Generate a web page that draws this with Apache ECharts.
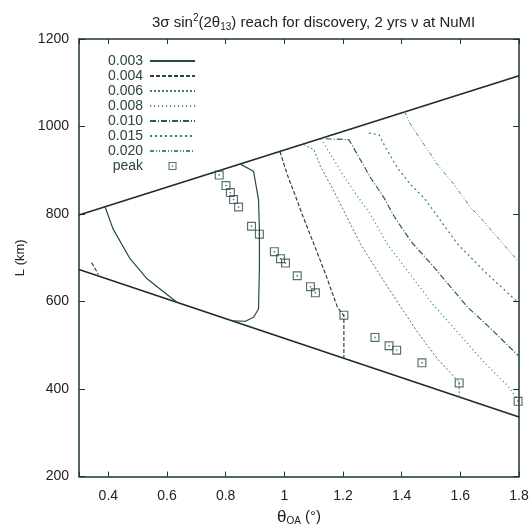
<!DOCTYPE html>
<html>
<head>
<meta charset="utf-8">
<script src="https://cdn.jsdelivr.net/npm/echarts@6/dist/echarts.min.js"></script>
<style>
  html, body { margin: 0; padding: 0; background: #fff; }
  #chart { width: 532px; height: 531px; }
</style>
</head>
<body>
<div id="chart"></div>
<script>
// tick labels
const xTicks = [0.4, 0.6, 0.8, 1, 1.2, 1.4, 1.6, 1.8]
const yTicks = [200, 400, 600, 800, 1000, 1200]
const legendNames = ['0.003', '0.004', '0.006', '0.008', '0.010', '0.015', '0.020']

// site boundaries (theta_OA, L)
const upperEdge = [[0.3, 798], [1.8, 1116]]
const lowerEdge = [[0.3, 673], [1.8, 336]]

// 3 sigma reach contours
const c003Left = [[0.389, 816], [0.416, 766], [0.474, 698], [0.532, 652], [0.587, 623], [0.635, 598]]
const c003Right = [[0.850, 914], [0.895, 898], [0.912, 833], [0.915, 765], [0.915, 675], [0.912, 583], [0.895, 564], [0.867, 555], [0.823, 556]]
const c004Stub = [[0.343, 689], [0.366, 662]]
const c004 = [[0.985, 943], [1.010, 890], [1.038, 841], [1.061, 799], [1.101, 731], [1.141, 662], [1.181, 587], [1.203, 568], [1.203, 470]]
const c006 = [[1.066, 959], [1.101, 947], [1.123, 909], [1.163, 860], [1.209, 799], [1.260, 731], [1.317, 670], [1.380, 605], [1.454, 530], [1.522, 469], [1.596, 416], [1.596, 382]]
const c008 = [[1.125, 972], [1.158, 936], [1.192, 898], [1.237, 852], [1.294, 799], [1.351, 731], [1.420, 670], [1.511, 590], [1.591, 530], [1.681, 461], [1.761, 408], [1.800, 372]]
const c010 = [[1.141, 972], [1.220, 970], [1.249, 936], [1.294, 883], [1.340, 837], [1.374, 795], [1.431, 738], [1.511, 678], [1.625, 587], [1.693, 545], [1.800, 475]]
const c015 = [[1.288, 985], [1.323, 981], [1.346, 951], [1.386, 905], [1.431, 867], [1.476, 837], [1.522, 795], [1.591, 731], [1.693, 662], [1.800, 596]]
const c020 = [[1.410, 1034], [1.431, 1004], [1.476, 959], [1.522, 913], [1.579, 867], [1.636, 814], [1.664, 795], [1.738, 738], [1.800, 690]]
const peaks = [
  [0.778, 889], [0.801, 865], [0.816, 849], [0.827, 833], [0.844, 816],
  [0.888, 772], [0.915, 754], [0.966, 714], [0.987, 698], [1.004, 688],
  [1.044, 659], [1.089, 634], [1.106, 620], [1.203, 569], [1.309, 518],
  [1.357, 499], [1.383, 489], [1.469, 460], [1.596, 414], [1.797, 372]
]

const ink = '#1d3536'
const font = 'Liberation Sans'
const chart = echarts.init(document.getElementById('chart'))

// gnuplot style curve
function curve(name, data, type, color, width) {
  return {
    name: name,
    type: 'line',
    data: data,
    symbol: 'none',
    silent: true,
    lineStyle: { color: color, width: width || 1, type: type },
    itemStyle: { color: color },
    z: 3
  }
}

const peakSymbol = 'path://M0,0L10,0L10,10L0,10Z M1.3,1.3L1.3,8.7L8.7,8.7L8.7,1.3Z M4.2,4.2L5.8,4.2L5.8,5.8L4.2,5.8Z'

// line entries: hide the marker, keep the dash sample
const legendData = legendNames.map(n => ({ name: n, itemStyle: { opacity: 0 } }))
legendData.push({ name: 'peak' })

const option = {
  animation: false,
  backgroundColor: '#fff',
  title: {
    text: '3σ sin{sup|2}(2θ{sub|13}) reach for discovery, 2 yrs ν at NuMI',
    left: 147,
    top: 8,
    textStyle: {
      fontFamily: font,
      fontSize: 15,
      fontWeight: 'normal',
      color: '#222',
      rich: {
        sup: { fontSize: 10, verticalAlign: 'top', padding: [0, 0, 9, 0], fontFamily: font, color: '#222' },
        sub: { fontSize: 10, verticalAlign: 'bottom', padding: [7, 0, 0, 0], fontFamily: font, color: '#222' }
      }
    }
  },
  legend: {
    data: legendData,
    orient: 'vertical',
    left: 103,
    top: 49,
    align: 'right',
    itemWidth: 45,
    itemHeight: 8,
    itemGap: 1,
    selectedMode: false,
    textStyle: { fontFamily: font, fontSize: 14, color: '#2a4545', width: 38, align: 'right', padding: [0, 2, 0, 0] }
  },
  grid: { left: 79, right: 13, top: 39, bottom: 53 },
  xAxis: [
    {
      type: 'value',
      min: 0.3,
      max: 1.8,
      splitNumber: 7,
      name: '{t|θ}{s|OA} (°)',
      nameLocation: 'middle',
      nameGap: 31,
      nameTextStyle: {
        fontFamily: font,
        fontSize: 15,
        color: '#222',
        rich: {
          t: { fontSize: 17, fontFamily: font, color: '#222' },
          s: { fontSize: 10, fontFamily: font, color: '#222', verticalAlign: 'bottom', padding: [8, 0, 0, 0] }
        }
      },
      axisLine: { onZero: false, lineStyle: { color: ink, width: 1.5 } },
      axisTick: { inside: true, length: 5, lineStyle: { color: ink } },
      axisLabel: {
        margin: 13,
        fontFamily: font,
        fontSize: 14,
        color: '#222',
        formatter: v => xTicks.some(t => Math.abs(t - v) < 1e-6) ? String(v) : ''
      },
      splitLine: { show: false }
    },
    {
      type: 'value',
      position: 'top',
      min: 0.3,
      max: 1.8,
      splitNumber: 7,
      axisLine: { onZero: false, lineStyle: { color: ink, width: 1.5 } },
      axisTick: { inside: true, length: 5, lineStyle: { color: ink } },
      axisLabel: { show: false },
      splitLine: { show: false }
    }
  ],
  yAxis: [
    {
      type: 'value',
      min: 200,
      max: 1200,
      interval: 200,
      name: 'L (km)',
      nameLocation: 'middle',
      nameGap: 36,
      nameTextStyle: { fontFamily: font, fontSize: 13, color: '#222' },
      axisLine: { show: true, onZero: false, lineStyle: { color: ink, width: 1.5 } },
      axisTick: { show: true, inside: true, length: 6, lineStyle: { color: ink } },
      axisLabel: {
        margin: 10,
        fontFamily: font,
        fontSize: 14,
        color: '#222',
        formatter: v => yTicks.includes(v) ? String(v) : ''
      },
      splitLine: { show: false }
    },
    {
      type: 'value',
      position: 'right',
      min: 200,
      max: 1200,
      interval: 200,
      axisLine: { show: true, onZero: false, lineStyle: { color: ink, width: 1.5 } },
      axisTick: { show: true, inside: true, length: 6, lineStyle: { color: ink } },
      axisLabel: { show: false },
      splitLine: { show: false }
    }
  ],
  series: [
    curve('edgeUp', upperEdge, 'solid', '#1a2c2d', 1.6),
    curve('edgeLow', lowerEdge, 'solid', '#1a2c2d', 1.6),
    curve('0.003', c003Left, 'solid', '#24484a', 1.2),
    curve('0.003', c003Right, 'solid', '#24484a', 1.2),
    curve('0.004', c004, [4, 2], '#24484a', 1.2),
    curve('0.004', c004Stub, [4, 2], '#24484a', 1.2),
    curve('0.006', c006, [2, 2], '#3a7d80', 1),
    curve('0.008', c008, [1, 3], '#2f8a8c', 1.3),
    curve('0.010', c010, [6, 2, 1, 2], '#2a5a5c', 1.2),
    curve('0.015', c015, [2, 3], '#2f8084', 1.2),
    curve('0.020', c020, [4, 2, 1, 2, 1, 2], '#3a8a8d', 1),
    {
      name: 'peak',
      type: 'scatter',
      data: peaks,
      symbol: peakSymbol,
      symbolSize: 9,
      symbolKeepAspect: true,
      itemStyle: { color: '#2b4a4b' },
      silent: true,
      z: 4
    }
  ]
}

chart.setOption(option)
</script>
</body>
</html>
